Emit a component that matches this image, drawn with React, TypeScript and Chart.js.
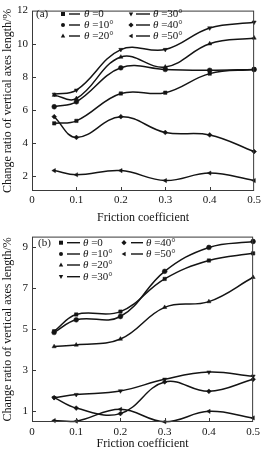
import React, { useEffect, useRef } from "react";
import { Chart, registerables } from "chart.js";

Chart.register(...registerables);

// ---------- data ----------
const frictions = [0.05, 0.1, 0.2, 0.3, 0.4, 0.5];
const xTickValues = [0, 0.1, 0.2, 0.3, 0.4, 0.5];
const xTickLabels = ["0", "0.1", "0.2", "0.3", "0.4", "0.5"];
const yTicksA = [2, 4, 6, 8, 10, 12];
const yTicksB = [1, 3, 5, 7, 9];
const angleNames = ["0", "10°", "20°", "30°", "40°", "50°"];

// panel (a)
const a0 = [5.2, 5.35, 7.0, 7.05, 8.2, 8.45];
const a10 = [6.2, 6.5, 8.55, 8.45, 8.4, 8.45];
const a20 = [6.9, 6.7, 9.2, 8.6, 10.0, 10.35];
const a30 = [6.95, 7.2, 9.65, 9.65, 10.95, 11.3];
const a40 = [5.6, 4.35, 5.6, 4.65, 4.5, 3.5];
const a50 = [2.35, 2.1, 2.35, 1.75, 2.2, 1.75];

// panel (b)
const b0 = [4.9, 5.72, 5.86, 7.46, 8.36, 8.71];
const b10 = [4.84, 5.46, 5.62, 7.83, 9.0, 9.29];
const b20 = [4.15, 4.23, 4.52, 6.07, 6.35, 7.54];
const b30 = [1.65, 1.8, 1.98, 2.55, 2.9, 2.7];
const b40 = [1.65, 1.14, 0.87, 2.42, 1.96, 2.55];
const b50 = [0.53, 0.5, 1.08, 0.47, 0.98, 0.66];

// ---------- styles ----------
const INK = "#141414";
const FRAME = "#3a3a3a";
const SERIF = "'Liberation Serif', 'DejaVu Serif', serif";
const chartStyles = ["rect", "circle", "triangle", "triangle", "rectRot", "triangle"];
const chartRots = [0, 0, 0, 180, 0, 270];
const legendShapes = ["square", "circle", "up", "down", "diamond", "left"];

type LegendEntry = { idx: number; mx: number; lx0: number; lx1: number; tx: number; y: number };

type Panel = {
  tag: string;
  tagX: number;
  tagY: number;
  series: number[][];
  yTicks: number[];
  yMin: number;
  yMax: number;
  height: number;
  padTop: number;
  xAxisH: number;
  xTickPad: number;
  xTitlePad: number;
  legend: LegendEntry[];
};

function drawShape(ctx: CanvasRenderingContext2D, shape: string, x: number, y: number, r: number) {
  ctx.beginPath();
  if (shape === "square") {
    ctx.rect(x - r, y - r, 2 * r, 2 * r);
  } else if (shape === "circle") {
    ctx.arc(x, y, r, 0, Math.PI * 2);
  } else if (shape === "up") {
    ctx.moveTo(x, y - r * 1.2);
    ctx.lineTo(x + r * 1.1, y + r * 0.8);
    ctx.lineTo(x - r * 1.1, y + r * 0.8);
  } else if (shape === "down") {
    ctx.moveTo(x, y + r * 1.2);
    ctx.lineTo(x + r * 1.1, y - r * 0.8);
    ctx.lineTo(x - r * 1.1, y - r * 0.8);
  } else if (shape === "diamond") {
    ctx.moveTo(x, y - r * 1.3);
    ctx.lineTo(x + r * 1.3, y);
    ctx.lineTo(x, y + r * 1.3);
    ctx.lineTo(x - r * 1.3, y);
  } else {
    ctx.moveTo(x - r * 1.2, y);
    ctx.lineTo(x + r * 0.8, y - r * 1.1);
    ctx.lineTo(x + r * 0.8, y + r * 1.1);
  }
  ctx.closePath();
  ctx.fill();
}

const framePlugin = {
  id: "frameTicks",
  afterDatasetsDraw(chart: any) {
    const { ctx, chartArea: a, scales } = chart;
    ctx.save();
    ctx.strokeStyle = FRAME;
    ctx.lineWidth = 1;
    ctx.strokeRect(a.left + 0.5, a.top + 0.5, a.right - a.left - 1, a.bottom - a.top - 1);
    ctx.beginPath();
    scales.x.ticks.forEach((t: any) => {
      const px = Math.round(scales.x.getPixelForValue(t.value)) + 0.5;
      if (px > a.left + 3 && px < a.right - 3) {
        ctx.moveTo(px, a.bottom);
        ctx.lineTo(px, a.bottom - 4);
      }
    });
    scales.y.ticks.forEach((t: any) => {
      const py = Math.round(scales.y.getPixelForValue(t.value)) + 0.5;
      if (py > a.top + 3 && py < a.bottom - 3) {
        ctx.moveTo(a.left, py);
        ctx.lineTo(a.left + 4, py);
      }
    });
    ctx.stroke();
    ctx.restore();
  },
};

function makeLegendPlugin(p: Panel) {
  return {
    id: "customLegend",
    afterDraw(chart: any) {
      const ctx: CanvasRenderingContext2D = chart.ctx;
      ctx.save();
      ctx.fillStyle = INK;
      ctx.strokeStyle = INK;
      ctx.textBaseline = "middle";
      ctx.font = `11px ${SERIF}`;
      ctx.fillText(p.tag, p.tagX, p.tagY);
      p.legend.forEach((e) => {
        drawShape(ctx, legendShapes[e.idx], e.mx, e.y, 2);
        ctx.lineWidth = 1.4;
        ctx.beginPath();
        ctx.moveTo(e.lx0, e.y);
        ctx.lineTo(e.lx1, e.y);
        ctx.stroke();
        ctx.font = `italic 11px ${SERIF}`;
        ctx.fillText("θ", e.tx, e.y);
        const w = ctx.measureText("θ").width;
        ctx.font = `11px ${SERIF}`;
        ctx.fillText(" =" + angleNames[e.idx], e.tx + w, e.y);
      });
      ctx.restore();
    },
  };
}

function buildConfig(p: Panel): any {
  return {
    type: "line",
    data: {
      datasets: p.series.map((s, i) => ({
        label: "θ=" + angleNames[i],
        data: frictions.map((f, j) => ({ x: f, y: s[j] })),
        borderColor: INK,
        backgroundColor: INK,
        borderWidth: 1.5,
        pointStyle: chartStyles[i],
        rotation: chartRots[i],
        pointRadius: 2.4,
        pointHoverRadius: 2.4,
        pointBorderWidth: 0.5,
        tension: 0.4,
        fill: false,
        clip: false,
      })),
    },
    options: {
      responsive: false,
      animation: false,
      events: [],
      layout: { padding: { top: p.padTop, right: 2, left: 0, bottom: 0 } },
      plugins: { legend: { display: false }, tooltip: { enabled: false } },
      scales: {
        x: {
          type: "linear",
          min: 0,
          max: 0.5,
          grid: { display: false, drawTicks: false },
          border: { display: false },
          afterBuildTicks: (ax: any) => {
            ax.ticks = xTickValues.map((v) => ({ value: v }));
          },
          afterFit: (ax: any) => {
            ax.height = p.xAxisH;
          },
          ticks: {
            autoSkip: false,
            maxRotation: 0,
            padding: p.xTickPad,
            color: INK,
            font: { family: SERIF, size: 11 },
            callback: (_v: any, i: number) => xTickLabels[i],
          },
          title: {
            display: true,
            text: "Friction coefficient",
            color: INK,
            font: { family: SERIF, size: 12 },
            padding: { top: 0, bottom: p.xTitlePad },
          },
        },
        y: {
          type: "linear",
          min: p.yMin,
          max: p.yMax,
          grid: { display: false, drawTicks: false },
          border: { display: false },
          afterBuildTicks: (ax: any) => {
            ax.ticks = p.yTicks.map((v) => ({ value: v }));
          },
          afterFit: (ax: any) => {
            ax.width = 32;
          },
          ticks: {
            padding: 4,
            color: INK,
            font: { family: SERIF, size: 11 },
            callback: (v: any) => String(v),
          },
          title: {
            display: true,
            text: "Change ratio of vertical axes length/%",
            color: INK,
            font: { family: SERIF, size: 12 },
            padding: { top: 1, bottom: 0 },
          },
        },
      },
    },
    plugins: [framePlugin, makeLegendPlugin(p)],
  };
}

const panelA: Panel = {
  tag: "(a)",
  tagX: 36,
  tagY: 14,
  series: [a0, a10, a20, a30, a40, a50],
  yTicks: yTicksA,
  yMin: 1.12,
  yMax: 12,
  height: 226,
  padTop: 5,
  xAxisH: 35,
  xTickPad: 3,
  xTitlePad: 1,
  legend: [
    { idx: 0, mx: 63, lx0: 69, lx1: 80, tx: 84, y: 14 },
    { idx: 1, mx: 63, lx0: 69, lx1: 80, tx: 84, y: 25 },
    { idx: 2, mx: 63, lx0: 69, lx1: 80, tx: 84, y: 36 },
    { idx: 3, mx: 131, lx0: 136, lx1: 150, tx: 153, y: 14 },
    { idx: 4, mx: 131, lx0: 136, lx1: 150, tx: 153, y: 25 },
    { idx: 5, mx: 131, lx0: 136, lx1: 150, tx: 153, y: 36 },
  ],
};

const panelB: Panel = {
  tag: "(b)",
  tagX: 38,
  tagY: 16.7,
  series: [b0, b10, b20, b30, b40, b50],
  yTicks: yTicksB,
  yMin: 0.46,
  yMax: 9.53,
  height: 225,
  padTop: 7,
  xAxisH: 29,
  xTickPad: 4,
  xTitlePad: 0,
  legend: [
    { idx: 0, mx: 61, lx0: 67, lx1: 80, tx: 83, y: 16.7 },
    { idx: 1, mx: 61, lx0: 67, lx1: 80, tx: 83, y: 28 },
    { idx: 2, mx: 61, lx0: 67, lx1: 80, tx: 83, y: 39 },
    { idx: 3, mx: 61, lx0: 67, lx1: 80, tx: 83, y: 50.7 },
    { idx: 4, mx: 124, lx0: 131, lx1: 143, tx: 146, y: 16.7 },
    { idx: 5, mx: 124, lx0: 131, lx1: 143, tx: 146, y: 28 },
  ],
};

function PanelChart({ panel }: { panel: Panel }) {
  const ref = useRef<HTMLCanvasElement | null>(null);
  useEffect(() => {
    if (!ref.current) return;
    const chart = new Chart(ref.current, buildConfig(panel));
    return () => chart.destroy();
  }, [panel]);
  return (
    <canvas
      ref={ref}
      width={264}
      height={panel.height}
      style={{ display: "block", width: 264, height: panel.height }}
    />
  );
}

export default function App() {
  return (
    <div
      style={{
        position: "absolute",
        left: 0,
        top: 0,
        width: 264,
        height: 451,
        background: "#ffffff",
        overflow: "hidden",
      }}
    >
      <PanelChart panel={panelA} />
      <PanelChart panel={panelB} />
    </div>
  );
}
